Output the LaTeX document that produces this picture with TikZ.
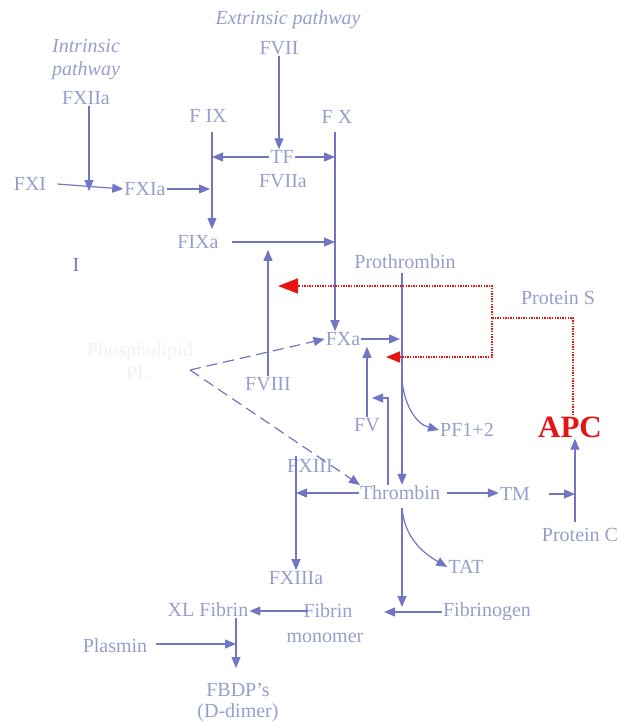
\documentclass[tikz,border=0pt]{standalone}
\usepackage{fontspec}
\setmainfont{Liberation Serif}
\usetikzlibrary{arrows.meta,positioning,calc}
\definecolor{pathtext}{RGB}{150,158,205}
\definecolor{pathline}{RGB}{112,118,196}
\definecolor{apcred}{RGB}{228,20,20}
\definecolor{faint}{RGB}{241,241,245}

\begin{document}
\begin{tikzpicture}[x=1pt,y=-1pt,
  every node/.style={font=\fontsize{20}{22}\selectfont,text=pathtext,inner sep=1pt},
  pathname/.style={font=\itshape\fontsize{20}{22}\selectfont},
  flow/.style={draw=pathline,line width=1.2pt,-{Triangle[length=11pt,width=9pt]}},
  bar/.style={draw=pathline,line width=1.2pt},
  dashflow/.style={flow,dash pattern=on 11pt off 6pt},
  inhib/.style={draw=apcred,line width=1.7pt,dash pattern=on 1.4pt off 1.2pt}]
  \useasboundingbox (0,0) rectangle (628,724);
  % factors
  \node[pathname] (extr) at (288,20) {Extrinsic pathway};
  \node[pathname] (intr) at (86,46) {Intrinsic};
  \node[pathname] (intr2) at (86,71) {pathway};
  \node (fxiia) at (86,98) {FXIIa};
  \node (fvii) at (279,48) {FVII};
  \node (fix) at (208,116) {F IX};
  \node (fx) at (337,117) {F X};
  \node (tf) at (282,157) {TF};
  \node (fviia) at (283,181) {FVIIa};
  \node (fxi) at (30,184) {FXI};
  \node (fxia) at (145,189) {FXIa};
  \node (fixa) at (198,242) {FIXa};
  \node[text=pathline] (mark) at (76,265) {I};
  \node[text=faint] (plat) at (140,352) {Phospholipid};
  \node[text=faint] (plat2) at (138,373) {PL};
  \node (prot) at (405,262) {Prothrombin};
  \node (ps) at (558,298) {Protein S};
  \node (fxa) at (343,339) {FXa};
  \node (fviii) at (268,384) {FVIII};
  \node (fv) at (367,425) {FV};
  \node (pf) at (467,430) {PF1+2};
  \node[font=\bfseries\fontsize{31}{33}\selectfont,text=apcred] (apc) at (570,427) {APC};
  \node (fxiii) at (310,466) {FXIII};
  \node (thr) at (400,493) {Thrombin};
  \node (tm) at (515,494) {TM};
  \node (pc) at (580,535) {Protein C};
  \node (tat) at (466,567) {TAT};
  \node (fxiiia) at (296,578) {FXIIIa};
  \node (xl) at (208,610) {XL Fibrin};
  \node (fib) at (328,611) {Fibrin};
  \node (mono) at (325,638) {monomer};
  \node (fgen) at (487,612) {Fibrinogen};
  \node (plas) at (115,646) {Plasmin};
  \node (fbdp) at (238,690) {FBDP's};
  \node (ddim) at (238,713) {(D-dimer)};
  % junctions on the lines
  \coordinate (ixtop) at (212,132);
  \coordinate (xtop) at (335,132);
  \coordinate (prtop) at (402,273);
  \coordinate (xiiitop) at (296,456);
  \coordinate (pcline) at (575,522);
  \coordinate (plv) at (190,370);
  \coordinate (fvback) at (388,398);
  \coordinate (thrdown) at (402,508);
  \coordinate (plasend) at (236,644);
  % extrinsic / intrinsic
  \draw[flow] (fvii.south) -- (fvii.south |- tf.north);
  \draw[flow] (ixtop) -- (212,229);
  \draw[flow] (tf.west) -- (tf.west -| ixtop);
  \draw[flow] (tf.east) -- (tf.east -| xtop);
  \draw[flow] (fxiia.south) ++(3,0) -- (89,191);
  \draw[flow] ($(fxi.east)+(10,0)$) -- (fxia.west);
  \draw[flow] (fxia.east) -- ($(fxia.east -| ixtop)+(-2,0)$);
  \draw[flow] (fixa.east) ++(12,0) -- (fixa.east -| xtop);
  \draw[flow] (fviii.north) -- (fviii.north |- fixa.south);
  \draw[flow] (xtop) -- (xtop |- fxa.north);
  % platelets
  \draw[dashflow] (plv) -- (fxa.west);
  \draw[dashflow] (plv) -- (360,485);
  % prothrombinase
  \draw[flow] (prtop) -- (prtop |- thr.north);
  \draw[flow] (fxa.east) -- ($(fxa.east -| prtop)+(-2,0)$);
  \draw[flow] (fv.north) -- (fv.north |- fxa.south);
  \draw[flow] (fvback |- thr.north) -- (fvback) -- (372,398);
  \draw[flow] (402,380) to[out=-85,in=165] (pf.west);
  % thrombin
  \draw[flow] (thr.west) -- (thr.west -| xiiitop);
  \draw[bar] (xiiitop) -- (thr.west -| xiiitop);
  \draw[flow] (thr.west -| xiiitop) -- (xiiitop |- fxiiia.north);
  \draw[flow] (thr.east) ++(6,0) -- (tm.west |- thr.east);
  \draw[flow] (tm.east) ++(18,0) -- (tm.east -| pcline);
  \draw[flow] (pcline) -- (pcline |- apc.south);
  \draw[flow] (thrdown) to[out=-85,in=150] (tat.west);
  \draw[flow] (thrdown) -- (402,607);
  % fibrin
  \draw[flow] (fgen.west) -- (384,612);
  \draw[flow] (fib.west) ++(6,0) -- (xl.east |- fib.west);
  \draw[flow] (xl.south -| plasend) -- (236,668);
  \draw[flow] (plas.east |- plasend) ++(8,0) -- (plasend);
  % APC inhibition
  \draw[inhib] (apc.north -| 573,0) -- (573,318) -- (492,318);
  \draw[inhib,-{Triangle[length=20pt,width=15pt]}] (492,318) -- (492,286) -- (278,286);
  \draw[inhib,-{Triangle[length=14pt,width=11pt]}] (492,318) -- (492,357) -- (386,357);
\end{tikzpicture}
\end{document}
